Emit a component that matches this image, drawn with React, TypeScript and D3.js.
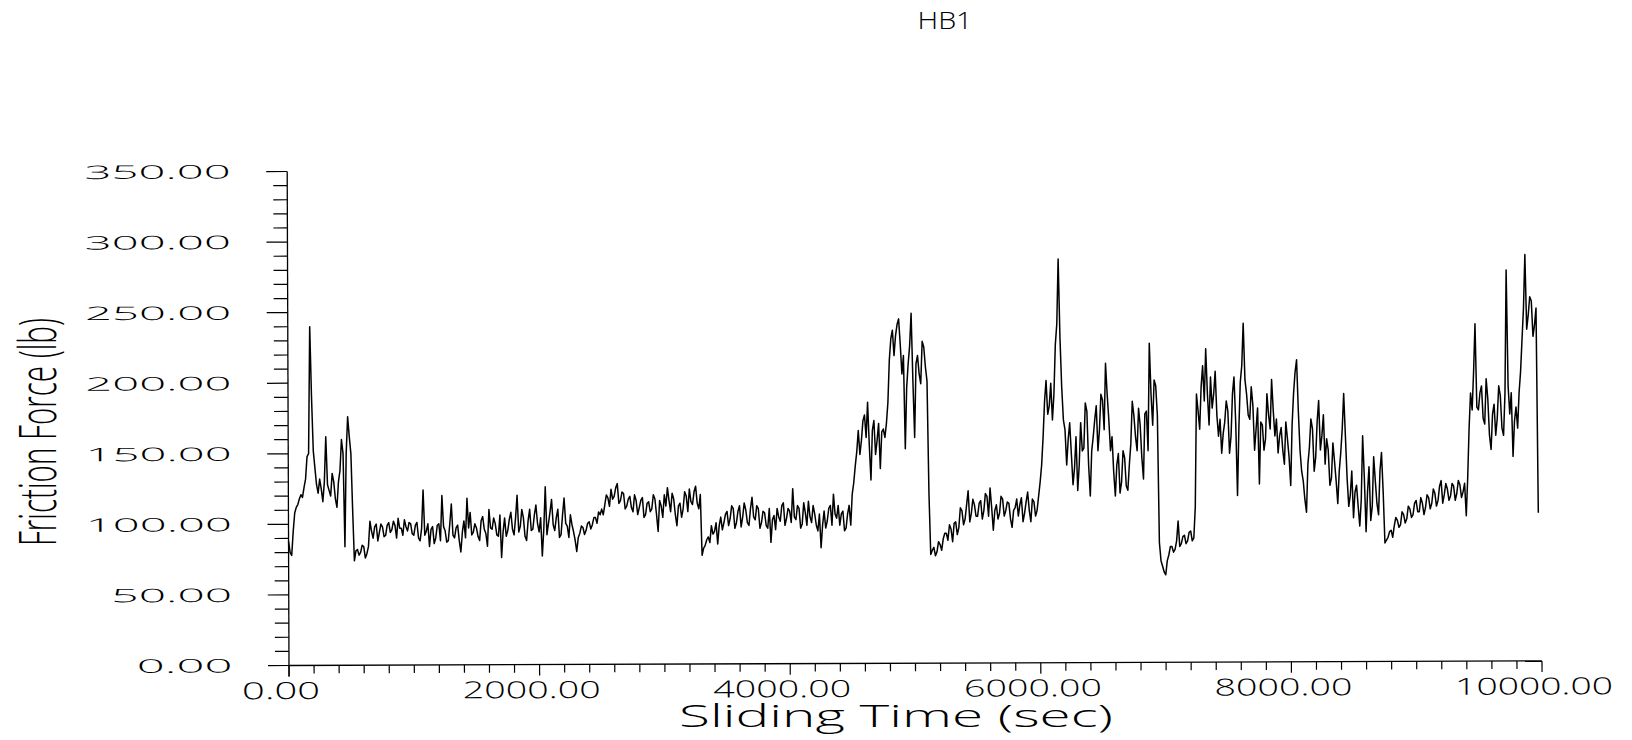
import React from 'react';
import * as d3 from 'd3';

const TITLE = 'HB1';
const X_LABEL = 'Sliding Time (sec)';
const Y_LABEL = 'Friction Force (lb)';
const X_TICKS = [0, 2000, 4000, 6000, 8000, 10000];
const Y_TICKS = [0, 50, 100, 150, 200, 250, 300, 350];
const X_MAX = 10000;
const Y_MAX = 350;
const SAMPLE_STEP = 12.5; // seconds between readings (on-grid and half-step readings interleaved)

// Friction force (lb) read at t = 0, 25, 50 ... s
const force0to2475 = [
  88, 78, 108, 114, 121, 126, 148, 240, 152, 128, 132, 116, 162, 124, 136, 118, 130, 160, 84, 176,
  150, 74, 82, 80, 84, 79, 102, 90, 100, 94, 98, 92, 101, 96, 99, 104, 97, 103, 95, 100,
  92, 101, 88, 124, 95, 84, 98, 90, 100, 120, 95, 88, 114, 90, 99, 80, 102, 118, 108, 94,
  97, 88, 105, 93, 110, 96, 100, 91, 76, 104, 95, 108, 92, 120, 98, 104, 88, 110, 96, 113,
  94, 77, 126, 100, 117, 95, 110, 92, 118, 98, 106, 94, 80, 93, 97, 95, 101, 99, 104, 108,
];
const force2500to4975 = [
  110, 113, 118, 124, 119, 128, 116, 121, 112, 119, 108, 116, 111, 118, 106, 115, 110, 117, 94, 112,
  120, 125, 108, 117, 98, 114, 110, 119, 124, 113, 126, 110, 77, 84, 90, 98, 94, 85, 104, 100,
  108, 103, 110, 100, 112, 104, 109, 98, 118, 102, 110, 100, 107, 96, 86, 105, 110, 101, 114, 103,
  108, 124, 102, 110, 99, 107, 115, 100, 106, 94, 82, 108, 101, 112, 120, 103, 98, 108, 96, 112,
  120, 140, 165, 158, 176, 185, 130, 172, 158, 138, 166, 170, 215, 236, 232, 244, 205, 152, 212, 248,
];
const force5000to7475 = [
  160, 218, 198, 224, 200, 77, 82, 79, 84, 88, 92, 98, 86, 100, 96, 108, 102, 122, 106, 112,
  104, 115, 108, 118, 124, 94, 112, 106, 116, 108, 113, 96, 110, 104, 117, 106, 121, 100, 114, 108,
  128, 160, 200, 182, 172, 225, 286, 195, 165, 158, 148, 138, 122, 170, 152, 178, 118, 160, 182, 165,
  186, 212, 172, 160, 118, 148, 128, 145, 122, 155, 175, 150, 168, 130, 178, 226, 168, 196, 85, 68,
  62, 76, 82, 80, 100, 84, 90, 86, 93, 88, 190, 165, 210, 222, 168, 180, 206, 160, 148, 170,
];
const force7500to9975 = [
  178, 160, 202, 118, 198, 240, 190, 172, 182, 165, 126, 168, 158, 175, 200, 160, 148, 166, 140, 158,
  125, 190, 214, 150, 128, 106, 152, 165, 145, 185, 160, 140, 150, 130, 142, 112, 148, 190, 130, 118,
  102, 125, 96, 160, 92, 138, 110, 128, 104, 148, 84, 88, 93, 96, 100, 97, 104, 101, 108, 104,
  114, 106, 112, 109, 116, 112, 119, 114, 128, 118, 122, 117, 124, 119, 125, 120, 103, 165, 178, 239,
  178, 195, 168, 186, 150, 182, 172, 188, 160, 277, 175, 145, 180, 190, 228, 288, 245, 255, 238, 105,
];

// Friction force (lb) read half-way between, at t = 12.5, 37.5, 62.5 ... s
const forceHalf0to2487 = [
  80, 95, 112, 118, 119, 132, 150, 190, 140, 122, 125, 130, 128, 120, 130, 112, 138, 150, 150, 162,
  110, 81, 78, 85, 76, 84, 95, 98, 88, 100, 91, 99, 94, 102, 90, 97, 92, 98, 101, 93,
  99, 90, 97, 92, 100, 96, 86, 99, 88, 98, 87, 100, 92, 97, 88, 94, 90, 97, 92, 100,
  91, 102, 96, 84, 97, 104, 92, 106, 94, 91, 103, 96, 104, 94, 110, 91, 102, 95, 106, 100,
  104, 96, 92, 108, 99, 104, 90, 106, 100, 90, 99, 88, 90, 98, 92, 100, 96, 104, 100, 106,
];
const forceHalf2512to4987 = [
  106, 120, 112, 117, 125, 114, 122, 110, 117, 111, 120, 106, 116, 104, 114, 108, 120, 106, 116, 104,
  112, 116, 121, 106, 112, 104, 122, 108, 115, 122, 114, 120, 82, 88, 86, 92, 100, 98, 95, 106,
  98, 112, 96, 108, 97, 114, 100, 110, 104, 112, 96, 108, 98, 110, 102, 95, 104, 112, 98, 110,
  100, 104, 112, 96, 114, 98, 104, 112, 98, 106, 98, 96, 110, 98, 106, 112, 106, 94, 106, 98,
  128, 150, 148, 172, 160, 155, 165, 148, 170, 164, 160, 185, 230, 218, 240, 226, 218, 195, 225, 200,
];
const forceHalf5012to7487 = [
  212, 205, 228, 210, 120, 80, 76, 86, 80, 92, 87, 95, 99, 91, 110, 98, 112, 100, 116, 104,
  113, 102, 120, 104, 110, 108, 102, 118, 104, 114, 102, 108, 116, 112, 100, 114, 108, 116, 104, 118,
  140, 185, 176, 198, 190, 240, 230, 172, 140, 170, 126, 160, 140, 150, 184, 140, 150, 172, 150, 190,
  165, 190, 150, 135, 140, 120, 150, 125, 140, 185, 160, 180, 145, 176, 150, 190, 200, 175, 72, 64,
  72, 82, 78, 86, 82, 89, 84, 92, 86, 110, 178, 195, 185, 190, 202, 190, 175, 172, 162, 185,
];
const forceHalf7512to9962 = [
  148, 190, 170, 165, 210, 200, 175, 195, 150, 180, 170, 150, 190, 165, 178, 172, 160, 150, 170, 145,
  168, 205, 178, 135, 115, 140, 172, 135, 170, 150, 175, 158, 125, 155, 128, 135, 165, 160, 110, 135,
  120, 110, 115, 130, 120, 100, 145, 112, 135, 120, 86, 92, 88, 102, 95, 106, 98, 110, 102, 112,
  106, 116, 104, 118, 108, 122, 110, 124, 112, 126, 114, 126, 114, 128, 116, 126, 130, 190, 205, 180,
  190, 172, 200, 160, 175, 160, 195, 165, 190, 195, 190, 170, 165, 205, 250, 235, 258, 230, 250,
];

const ON_GRID = [...force0to2475, ...force2500to4975, ...force5000to7475, ...force7500to9975];
const HALF_STEP = [...forceHalf0to2487, ...forceHalf2512to4987, ...forceHalf5012to7487, ...forceHalf7512to9962];

// interleave the two sets of readings in time order
const FORCE: number[] = [];
ON_GRID.forEach((v, i) => {
  FORCE.push(v);
  if (i < HALF_STEP.length) FORCE.push(HALF_STEP[i]);
});

const FONT = "'Open Sans', 'DejaVu Sans', sans-serif";

export default function App() {
  const W = 1632;
  const H = 740;
  const x = d3.scaleLinear().domain([0, X_MAX]).range([289, 1542]);
  const y = d3.scaleLinear().domain([0, Y_MAX]).range([665.5, 171.5]);
  const line = d3
    .line<number>()
    .x((_, i) => x(i * SAMPLE_STEP))
    .y((d) => y(d));

  const xMinor = d3.range(0, X_MAX + 1, 200);
  const yMinor = d3.range(0, Y_MAX + 1, 10);
  const x0 = x(0);
  const y0 = y(0);

  const fmt = (v: number) => v.toFixed(2);

  return (
    <svg
      width={W}
      height={H}
      style={{ position: 'absolute', left: 0, top: 0, display: 'block', background: '#fff' }}
    >
      <rect width={W} height={H} fill="#fff" />
      <text
        x={917.5}
        y={29.3}
        fontFamily={FONT}
        fontWeight={300}
        fontSize={23}
        textLength={55}
        lengthAdjust="spacingAndGlyphs"
        fill="#000"
      >
        {TITLE}
      </text>

      <g transform={`rotate(-0.21, ${x0}, ${y0})`}>
        {/* y axis */}
        <line x1={x0} x2={x0} y1={y(Y_MAX)} y2={y0 + 11} stroke="#000" strokeWidth={1.3} />
        {yMinor.map((v) => (
          <line
            key={'ym' + v}
            x1={x0 - (v % 50 === 0 ? 21 : 14)}
            x2={x0}
            y1={y(v)}
            y2={y(v)}
            stroke="#000"
            strokeWidth={1.2}
          />
        ))}
        {/* x axis */}
        <line x1={x0} x2={x(X_MAX)} y1={y0} y2={y0} stroke="#000" strokeWidth={1.3} />
        {xMinor.map((v) => (
          <line
            key={'xm' + v}
            x1={x(v)}
            x2={x(v)}
            y1={y0}
            y2={y0 + (v % 2000 === 0 ? 11 : 8)}
            stroke="#000"
            strokeWidth={1.2}
          />
        ))}

        {Y_TICKS.map((v) => {
          const s = fmt(v);
          const len = s.length * 25.2 - 5;
          return (
            <text
              key={'yl' + v}
              x={232.5 - len}
              y={y(v) + 6.7}
              fontFamily={FONT}
              fontWeight={300}
              fontSize={18.5}
              textLength={len}
              lengthAdjust="spacingAndGlyphs"
              fill="#000"
            >
              {s}
            </text>
          );
        })}
        {X_TICKS.map((v) => {
          const s = fmt(v);
          const len = s.length * 20 - 2;
          return (
            <text
              key={'xl' + v}
              x={x(v) - 8 - len / 2}
              y={699}
              fontFamily={FONT}
              fontWeight={300}
              fontSize={23.5}
              textLength={len}
              lengthAdjust="spacingAndGlyphs"
              fill="#000"
            >
              {s}
            </text>
          );
        })}

        <path d={line(FORCE) || ''} fill="none" stroke="#000" strokeWidth={1.5} strokeLinejoin="round" />
      </g>

      <text
        x={679}
        y={727}
        fontFamily={FONT}
        fontWeight={300}
        fontSize={30.8}
        textLength={434}
        lengthAdjust="spacingAndGlyphs"
        fill="#000"
      >
        {X_LABEL}
      </text>
      <text
        transform="translate(55.5, 546) rotate(-90)"
        x={0}
        y={0}
        fontFamily={FONT}
        fontWeight={300}
        fontSize={51}
        textLength={228}
        lengthAdjust="spacingAndGlyphs"
        fill="#000"
      >
        {Y_LABEL}
      </text>
    </svg>
  );
}
